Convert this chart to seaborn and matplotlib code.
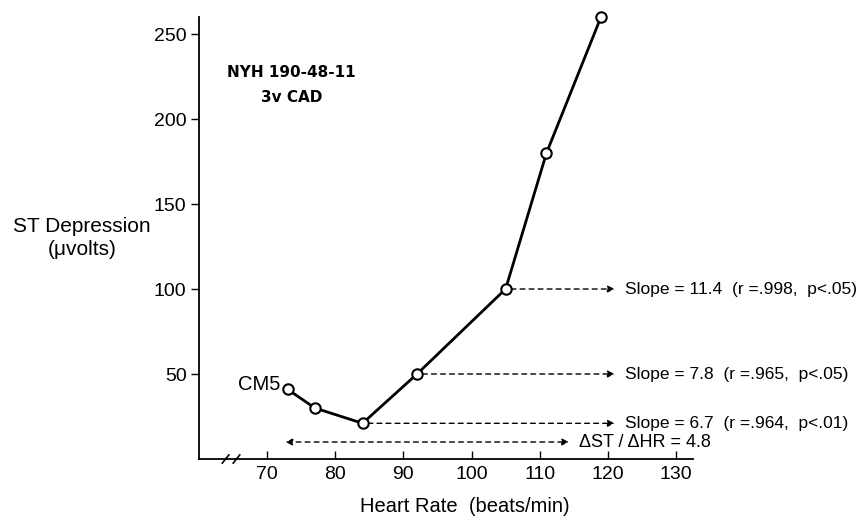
import numpy as np
import pandas as pd
import seaborn as sns
import matplotlib
matplotlib.use("Agg")
import matplotlib.pyplot as plt

heart_rate = [73, 77, 84, 92, 105, 111, 119]
st_depression = [41, 30, 21, 50, 100, 180, 260]
x_ticks = [70, 80, 90, 100, 110, 120, 130]
y_ticks = [50, 100, 150, 200, 250]
slope_labels = ["Slope = 11.4  (r =.998,  p<.05)",
                "Slope = 7.8  (r =.965,  p<.05)",
                "Slope = 6.7  (r =.964,  p<.01)"]
slope_start_x = [105, 92, 84]
slope_y = [100, 50, 21]
arrow_end_x = 121
ratio_label = "ΔST / ΔHR = 4.8"
ratio_y = 10
ratio_x = [72.7, 114.3]

sns.set_theme(style="white")
plt.rcParams['font.family'] = ['Liberation Sans', 'DejaVu Sans']
plt.rcParams['text.color'] = 'black'
plt.rcParams['xtick.color'] = 'black'
plt.rcParams['ytick.color'] = 'black'

fig = plt.figure(figsize=(8.66, 5.19), dpi=100)
ax = fig.add_axes([0.2298, 0.1156, 0.5704, 0.8516])

df = pd.DataFrame({"hr": heart_rate, "st": st_depression})
sns.lineplot(data=df, x="hr", y="st", ax=ax, color="black", linewidth=2,
             marker="o", markersize=7.5, markerfacecolor="white",
             markeredgecolor="black", markeredgewidth=1.5, zorder=5, clip_on=False)

ax.set_xlim(60, 132.5)
ax.set_ylim(0, 260)
ax.set_xticks(x_ticks)
ax.set_yticks(y_ticks)
ax.tick_params(axis="x", direction="in", length=6, width=1, labelsize=14, pad=5, bottom=True)
ax.tick_params(axis="y", direction="out", length=6, width=1, labelsize=14, pad=3, left=True)
for s in ["top", "right"]:
    ax.spines[s].set_visible(False)
for s in ["left", "bottom"]:
    ax.spines[s].set_color("black")
    ax.spines[s].set_linewidth(1.3)

ax.set_xlabel("")
ax.set_ylabel("")
fig.text(465/866, 1 - 507/519, "Heart Rate  (beats/min)", ha="center", va="center", fontsize=14.5)
fig.text(82/866, 1 - 238/519, "ST Depression\n(μvolts)", ha="center", va="center", fontsize=15,
         linespacing=1.25)

# break marks on x-axis
for dx in [-0.8, 0.8]:
    ax.plot([64.2 + dx, 65.2 + dx], [-2.5, 2.5], color="black", lw=1.2, clip_on=False, zorder=6)

ax.text(73.6, 220, "NYH 190-48-11\n3v CAD", ha="center", va="center", fontsize=11,
        fontweight="bold", family=["DejaVu Sans"], linespacing=1.9)
ax.text(heart_rate[0] - 1.0, st_depression[0] + 3, "CM5", ha="right", va="center", fontsize=14.5)

dash = (0, (3.5, 3))
for sx, sy, lab in zip(slope_start_x, slope_y, slope_labels):
    ax.annotate("", xy=(arrow_end_x, sy), xytext=(sx + 0.8, sy),
                arrowprops=dict(arrowstyle="-|>", linestyle=dash, color="black", lw=1,
                                shrinkA=0, shrinkB=0, mutation_scale=10))
    ax.text(arrow_end_x + 1.5, sy, lab, ha="left", va="center", fontsize=12.5, clip_on=False)

ax.annotate("", xy=(ratio_x[1], ratio_y), xytext=(ratio_x[0], ratio_y),
            arrowprops=dict(arrowstyle="<|-|>", linestyle=dash, color="black", lw=1,
                            shrinkA=0, shrinkB=0, mutation_scale=10))
ax.text(ratio_x[1] + 1.5, ratio_y - 0.5, ratio_label, ha="left", va="center", fontsize=13)

fig.savefig("out.png", dpi=100)
